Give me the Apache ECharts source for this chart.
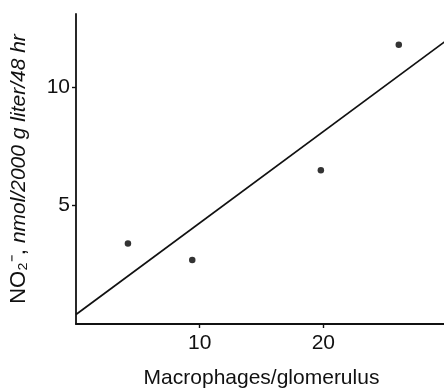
<!DOCTYPE html>
<html>
<head>
<meta charset="utf-8">
<script src="https://cdn.jsdelivr.net/npm/echarts@6/dist/echarts.min.js"></script>
<style>
  html, body { margin: 0; padding: 0; background: #fff; }
  #chart { width: 444px; height: 389px; }
</style>
</head>
<body>
<div id="chart"></div>
<script>
// measured points: macrophages per glomerulus vs nitrite
const macrophages = [4.2, 9.4, 19.8, 26.1]
const nitrite = [3.4, 2.7, 6.5, 11.8]
// regression line ends, as drawn
const fitLine = [[0, 0.4], [30, 12.0]]

const ink = '#111111'
const font = '"Liberation Sans", Arial, sans-serif'

const chart = echarts.init(document.getElementById('chart'), null, { renderer: 'canvas' })

chart.setOption({
  animation: false,
  grid: { left: 76, right: -3, top: 14, bottom: 65, outerBoundsMode: 'none', containLabel: false },
  xAxis: {
    type: 'value',
    min: 0,
    max: 30,
    interval: 10,
    name: 'Macrophages/glomerulus',
    nameLocation: 'middle',
    nameGap: 44,
    nameTextStyle: { color: ink, fontSize: 21, fontFamily: font },
    axisLine: { lineStyle: { color: ink, width: 1.8 } },
    axisTick: { inside: false, length: 4, lineStyle: { color: ink, width: 1.4 } },
    axisLabel: {
      color: ink, fontSize: 21, fontFamily: font, margin: 9,
      showMinLabel: false, showMaxLabel: false
    },
    splitLine: { show: false }
  },
  yAxis: {
    type: 'value',
    min: 0,
    max: 13.1,
    interval: 5,
    name: '{n|NO₂⁻, }{i|nmol/2000 g liter/48 hr}',
    nameLocation: 'middle',
    nameGap: 46,
    nameRotate: 90,
    nameTextStyle: {
      color: ink, fontSize: 21, fontFamily: font,
      rich: {
        n: { fontSize: 22, fontFamily: font, color: ink },
        i: { fontSize: 21, fontFamily: font, fontStyle: 'italic', color: ink }
      }
    },
    axisLine: { lineStyle: { color: ink, width: 1.8 } },
    axisTick: { length: 4, lineStyle: { color: ink, width: 1.4 } },
    axisLabel: {
      color: ink, fontSize: 21, fontFamily: font, margin: 6,
      showMinLabel: false, showMaxLabel: false
    },
    splitLine: { show: false }
  },
  series: [
    {
      type: 'line',
      data: fitLine,
      symbol: 'none',
      lineStyle: { color: ink, width: 1.7 },
      z: 2
    },
    {
      type: 'scatter',
      data: macrophages.map((x, i) => [x, nitrite[i]]),
      symbol: 'circle',
      symbolSize: 6.5,
      itemStyle: { color: '#000' },
      z: 3
    }
  ]
})
</script>
</body>
</html>
